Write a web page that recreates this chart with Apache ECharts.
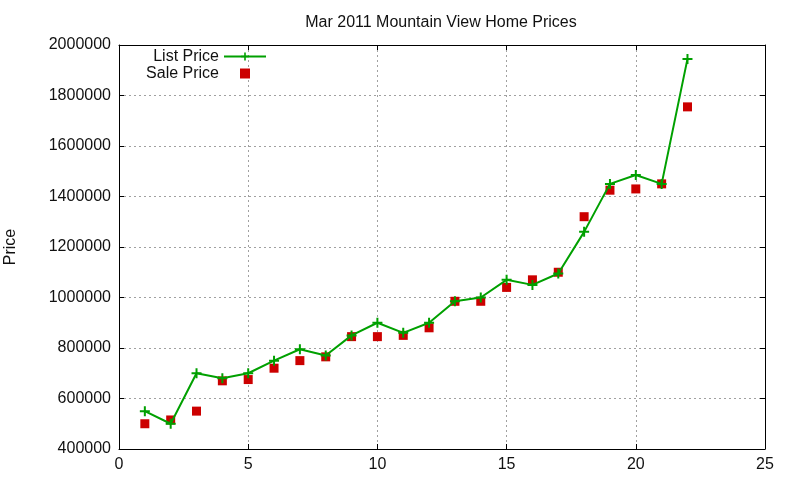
<!DOCTYPE html>
<html>
<head>
<meta charset="utf-8">
<script src="https://cdn.jsdelivr.net/npm/echarts@6/dist/echarts.min.js"></script>
<style>
html, body { margin: 0; padding: 0; background: #fff; }
#chart { width: 800px; height: 480px; }
</style>
</head>
<body>
<div id="chart"></div>
<script>
var chartTitle = "Mar 2011 Mountain View Home Prices";
var seriesNames = ["List Price", "Sale Price"];
var homeIndex = [1, 2, 3, 4, 5, 6, 7, 8, 9, 10, 11, 12, 13, 14, 15, 16, 17, 18, 19, 20, 21, 22];
var listPrices = [550000, 500000, 700000, 680000, 700000, 750000, 795000, 770000, 850000, 900000, 860000,
    900000, 985000, 1000000, 1070000, 1050000, 1095000, 1260000, 1450000, 1485000, 1450000, 1945000];
var salePrices = [500000, 515000, 550000, 670000, 675000, 720000, 750000, 765000, 845000, 845000, 850000,
    880000, 985000, 985000, 1040000, 1070000, 1100000, 1320000, 1425000, 1430000, 1450000, 1755000];
var xTicks = [0, 25, 5];            // min, max, step
var yTicks = [400000, 2000000, 200000];

var font = "Liberation Sans, Arial, sans-serif";
var plusSymbol = "path://M4,0H6V4H10V6H6V10H4V6H0V4H4Z";
var squareSymbol = "path://M0,0H10V10H0Z";

function pairUp(xs, ys) {
    var out = [];
    for (var i = 0; i < xs.length; i++) {
        out.push([xs[i], ys[i]]);
    }
    return out;
}

function makeAxis(position, ticks, withLabels) {
    var gridLine = {
        show: withLabels,
        lineStyle: { color: "#a0a0a0", type: [2, 3], width: 1 }
    };
    return {
        type: "value",
        position: position,
        min: ticks[0],
        max: ticks[1],
        interval: ticks[2],
        axisLine: { show: true, onZero: false, lineStyle: { color: "#000", width: 1 } },
        axisTick: { show: true, inside: true, length: 5, lineStyle: { color: "#000" } },
        axisLabel: {
            show: withLabels,
            color: "#111",
            fontFamily: font,
            fontSize: 16,
            margin: 8,
            formatter: function (v) { return String(v); }
        },
        splitLine: gridLine
    };
}

var chart = echarts.init(document.getElementById("chart"));

var yMain = makeAxis("left", yTicks, true);
yMain.name = "Price";
yMain.nameLocation = "middle";
yMain.nameGap = 100;
yMain.nameTextStyle = { color: "#111", fontFamily: font, fontSize: 16 };

var option = {
    animation: false,
    title: {
        text: chartTitle,
        left: 436,
        top: 10,
        textAlign: "center",
        textStyle: { color: "#111", fontFamily: font, fontSize: 16, fontWeight: "normal" }
    },
    legend: {
        data: seriesNames,
        orient: "vertical",
        align: "right",
        right: 533,
        top: 48,
        padding: 0,
        itemGap: 0,
        itemWidth: 42,
        itemHeight: 10,
        textStyle: { color: "#111", fontFamily: font, fontSize: 16, lineHeight: 17 }
    },
    grid: { left: 119, right: 35, top: 45, bottom: 31, containLabel: false, outerBoundsMode: "none" },
    xAxis: [makeAxis("bottom", xTicks, true), makeAxis("top", xTicks, false)],
    yAxis: [yMain, makeAxis("right", yTicks, false)],
    series: [
        {
            name: seriesNames[0],
            type: "line",
            data: pairUp(homeIndex, listPrices),
            symbol: plusSymbol,
            symbolSize: 10,
            lineStyle: { color: "#00a000", width: 2 },
            itemStyle: { color: "#00a000" }
        },
        {
            name: seriesNames[1],
            type: "scatter",
            data: pairUp(homeIndex, salePrices),
            symbol: squareSymbol,
            symbolSize: 9,
            symbolKeepAspect: true,
            itemStyle: { color: "#cc0000", opacity: 1 }
        }
    ]
};

chart.setOption(option);
</script>
</body>
</html>
